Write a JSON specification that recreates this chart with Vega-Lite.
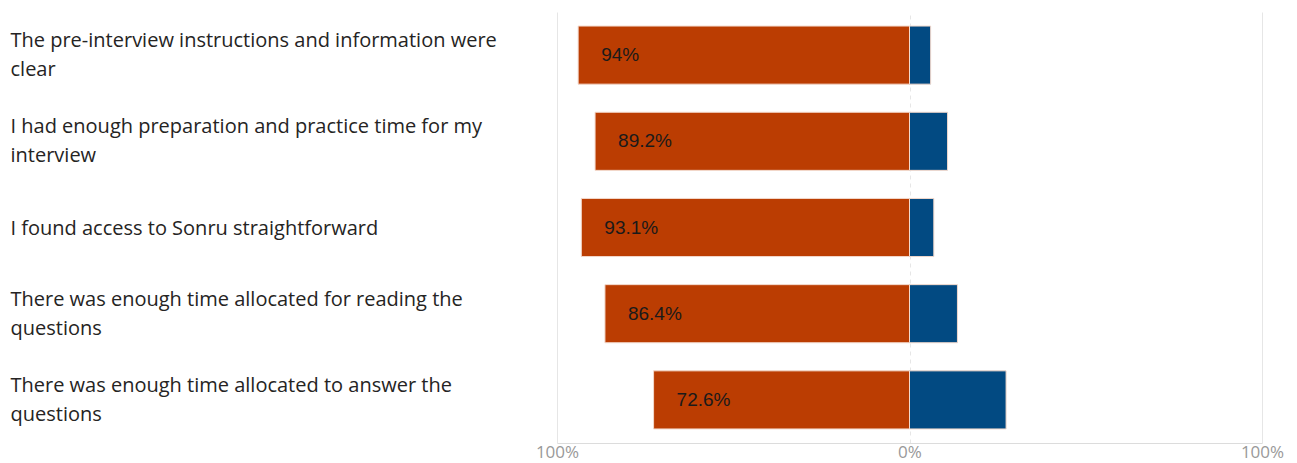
{
  "$schema": "https://vega.github.io/schema/vega-lite/v6.json",
  "width": 705,
  "height": 431,
  "padding": {"left": 10, "top": 12, "right": 35, "bottom": 5},
  "background": "white",
  "config": {"view": {"stroke": null}},
  "data": {
    "values": [
      {"q": "The pre-interview instructions and information were|clear", "cat": "Agree", "v": -94, "label": "94%"},
      {"q": "The pre-interview instructions and information were|clear", "cat": "Disagree", "v": 6, "label": ""},
      {"q": "I had enough preparation and practice time for my|interview", "cat": "Agree", "v": -89.2, "label": "89.2%"},
      {"q": "I had enough preparation and practice time for my|interview", "cat": "Disagree", "v": 10.8, "label": ""},
      {"q": "I found access to Sonru straightforward", "cat": "Agree", "v": -93.1, "label": "93.1%"},
      {"q": "I found access to Sonru straightforward", "cat": "Disagree", "v": 6.9, "label": ""},
      {"q": "There was enough time allocated for reading the|questions", "cat": "Agree", "v": -86.4, "label": "86.4%"},
      {"q": "There was enough time allocated for reading the|questions", "cat": "Disagree", "v": 13.6, "label": ""},
      {"q": "There was enough time allocated to answer the|questions", "cat": "Agree", "v": -72.6, "label": "72.6%"},
      {"q": "There was enough time allocated to answer the|questions", "cat": "Disagree", "v": 27.4, "label": ""}
    ]
  },
  "encoding": {
    "y": {
      "field": "q",
      "type": "nominal",
      "sort": null,
      "scale": {"paddingInner": 0.326, "paddingOuter": 0.163},
      "axis": {
        "title": null,
        "domain": false,
        "ticks": false,
        "labelAlign": "left",
        "labelPadding": 547,
        "labelLimit": 0,
        "labelFont": "Open Sans",
        "labelFontSize": 20,
        "labelColor": "#252423",
        "labelLineHeight": 29,
        "labelBaseline": "middle",
        "labelOffset": {"condition": {"test": "indexof(datum.value, '|') >= 0", "value": -14}, "value": 1},
        "labelExpr": "split(datum.label, '|')"
      }
    }
  },
  "layer": [
    {
      "mark": {"type": "bar", "stroke": "#f3d9cc", "strokeWidth": 1},
      "encoding": {
        "x": {
          "field": "v",
          "type": "quantitative",
          "stack": null,
          "scale": {"domain": [-100, 100], "nice": false},
          "axis": {
            "title": null,
            "values": [-100, 0, 100],
            "labelExpr": "abs(datum.value) + '%'",
            "ticks": false,
            "domainColor": "#dcdcdc",
            "gridColor": "#e6e6e6",
            "gridDash": {"condition": {"test": "datum.value === 0", "value": [4, 4]}, "value": []},
            "labelColor": "#999999",
            "labelFont": "Open Sans",
            "labelFontSize": 17,
            "labelPadding": 1,
            "labelFlush": false
          }
        },
        "color": {
          "field": "cat",
          "type": "nominal",
          "scale": {"domain": ["Agree", "Disagree"], "range": ["#BB3D02", "#024A82"]},
          "legend": null
        }
      }
    },
    {
      "transform": [{"filter": "datum.cat === 'Agree'"}],
      "mark": {"type": "text", "align": "left", "baseline": "middle", "dx": 23, "font": "Liberation Sans", "fontSize": 19, "color": "#1a1a1a"},
      "encoding": {
        "x": {"field": "v", "type": "quantitative"},
        "text": {"field": "label"}
      }
    }
  ]
}
